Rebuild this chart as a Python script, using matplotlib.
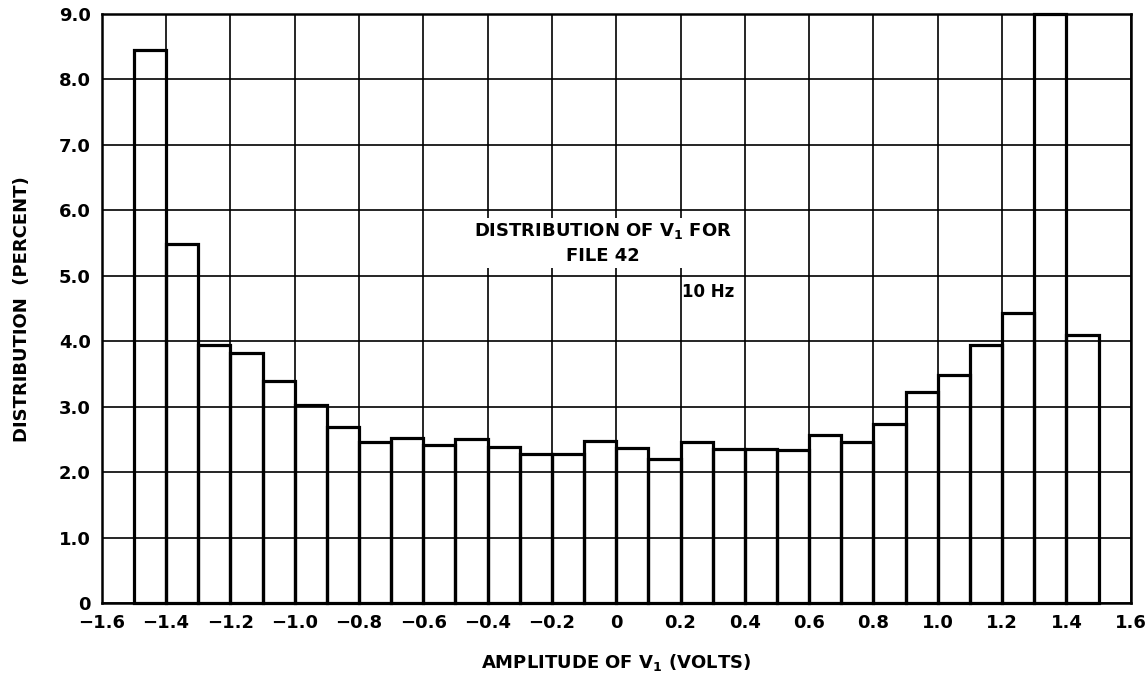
import numpy as np
import matplotlib.pyplot as plt
from matplotlib import font_manager

# bin left edges (volts) and distribution (percent)
bin_left = np.round(np.arange(-1.5, 1.5, 0.1), 2)
dist_pct = [8.45, 5.48, 3.95, 3.82, 3.40, 3.03, 2.69, 2.47, 2.52, 2.42,
            2.51, 2.39, 2.28, 2.28, 2.48, 2.37, 2.21, 2.46, 2.36, 2.36,
            2.34, 2.57, 2.47, 2.74, 3.23, 3.49, 3.95, 4.43, 9.0, 4.10]

xticks = np.round(np.arange(-1.6, 1.61, 0.2), 1)
xtick_labels = ['\u22121.6', '\u22121.4', '\u22121.2', '\u22121.0', '\u22120.8', '\u22120.6',
                '\u22120.4', '\u22120.2', '0', '0.2', '0.4', '0.6', '0.8', '1.0', '1.2', '1.4', '1.6']
yticks = np.arange(0, 10, 1)
ytick_labels = ['0'] + ['%.1f' % v for v in yticks[1:]]

names = {f.name for f in font_manager.fontManager.ttflist}
fam = 'Liberation Sans Narrow' if 'Liberation Sans Narrow' in names else 'DejaVu Sans'
plt.rcParams['font.family'] = [fam, 'DejaVu Sans']
plt.rcParams['font.weight'] = 'bold'
plt.rcParams['axes.labelweight'] = 'bold'
plt.rcParams['mathtext.default'] = 'regular'

fig = plt.figure(figsize=(11.47, 6.83), dpi=100)
ax = fig.add_axes([0.0887, 0.1167, 0.8971, 0.8628])

ax.bar(bin_left, dist_pct, width=0.1, align='edge', fill=False,
       edgecolor='black', linewidth=2.3, zorder=3, clip_on=False)

ax.set_xlim(-1.6, 1.6)
ax.set_ylim(0, 9)
ax.set_xticks(xticks)
ax.set_xticklabels(xtick_labels, fontsize=13)
ax.set_yticks(yticks)
ax.set_yticklabels(ytick_labels, fontsize=13)
ax.tick_params(length=0, pad=8)
ax.grid(True, color='black', linewidth=1.2, zorder=1)
ax.set_axisbelow(True)
for s in ax.spines.values():
    s.set_linewidth(1.8)

ax.set_xlabel('AMPLITUDE OF V$_1$ (VOLTS)', fontsize=13, labelpad=14)
ax.set_ylabel('DISTRIBUTION  (PERCENT)', fontsize=13, labelpad=20)

ax.text(-0.04, 5.5, 'DISTRIBUTION OF V$_1$ FOR\nFILE 42', ha='center', va='center',
        fontsize=13, linespacing=1.4, zorder=4,
        bbox=dict(facecolor='white', edgecolor='none', pad=2))
ax.text(0.205, 4.76, '10 Hz', ha='left', va='center', fontsize=12, zorder=4)

fig.savefig('out.png', dpi=100)
